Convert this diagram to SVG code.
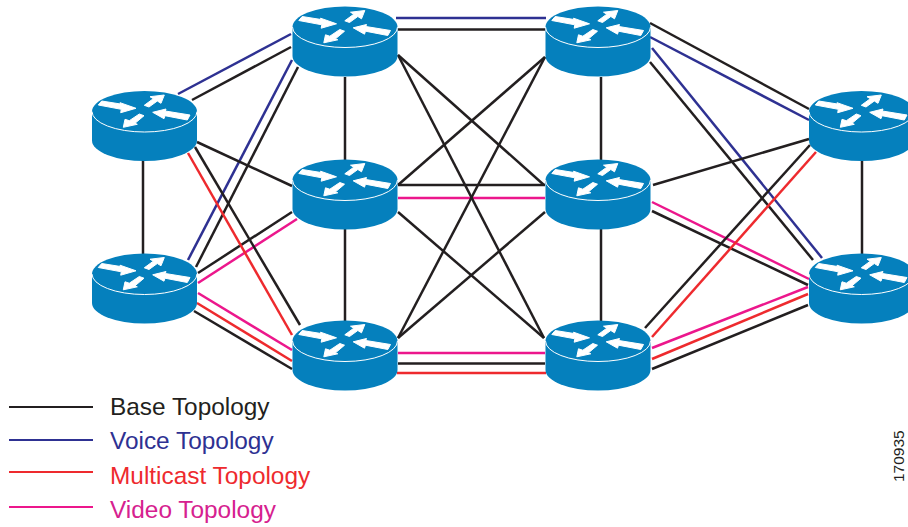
<svg xmlns="http://www.w3.org/2000/svg" width="908" height="527" viewBox="0 0 908 527">
<style>
.k{stroke:#231f20}.b{stroke:#2e3192}.r{stroke:#ee2a2e}.p{stroke:#ec178c}
#connectors line{stroke-width:2.5;fill:none}
#legend line{stroke-width:2;fill:none}
text{font-family:"Liberation Sans",Arial,sans-serif}
.lt{font-size:24.4px}
.a{fill:#fff;stroke:#fff;stroke-width:1;stroke-linejoin:round}
</style>
<defs>
<g id="router">
<path d="M-52.5 0V29A52.5 20.5 0 0 0 52.5 29V0Z" fill="#0580bd"/>
<ellipse cx="0" cy="0" rx="52.5" ry="20.5" fill="#0580bd"/>
<path d="M-52.5 0A52.5 20.5 0 0 0 52.5 0" fill="none" stroke="#fff" stroke-width="1"/>
<path class="a" d="M-42.8-10.5L-24-7.5L-24.5-8.8L-8.5-3.2L-23.8 1.2L-23.2-2.2L-46.2-6.5Z"/>
<path class="a" d="M19.8-16.5L16.5-8.2L12.8-10.5L4.5-4.5L-.2-6.2L8.8-12.8L5.5-14.8Z"/>
<path class="a" d="M8.2.8L21.5-2.5L20.8-.5L45.5 3.5L42.8 8.5L20.5 4.2L19.5 7.2Z"/>
<path class="a" d="M-21.2 15.8L-19.5 7.8L-15.2 9.2L-5.2 2.5L-.5 4.2L-9.5 11.8L-7.2 12.8Z"/>
</g>
</defs>
<rect width="908" height="527" fill="#fff"/>
<g id="connectors">
<line class="k" x1="143" y1="150" x2="143" y2="255"/>
<line class="b" x1="178" y1="94" x2="291" y2="34"/>
<line class="k" x1="192" y1="100" x2="291" y2="47"/>
<line class="b" x1="188" y1="260" x2="292" y2="60"/>
<line class="k" x1="196" y1="267" x2="298" y2="67"/>
<line class="k" x1="198" y1="273" x2="292" y2="212"/>
<line class="p" x1="198" y1="283" x2="297" y2="219"/>
<line class="p" x1="198" y1="293" x2="292" y2="350"/>
<line class="r" x1="197" y1="303" x2="292" y2="361"/>
<line class="k" x1="194" y1="311" x2="292" y2="369"/>
<line class="r" x1="188" y1="153" x2="292" y2="335"/>
<line class="k" x1="195" y1="147" x2="300" y2="325"/>
<line class="k" x1="197" y1="142" x2="292" y2="186"/>
<line class="k" x1="345" y1="77" x2="345" y2="160"/>
<line class="k" x1="345" y1="228" x2="345" y2="322"/>
<line class="b" x1="396" y1="18" x2="546" y2="18"/>
<line class="k" x1="398" y1="29.500" x2="545" y2="29.500"/>
<line class="k" x1="398" y1="185" x2="545" y2="185"/>
<line class="p" x1="398" y1="198" x2="545" y2="198"/>
<line class="p" x1="398" y1="353" x2="545" y2="353"/>
<line class="k" x1="398" y1="363.500" x2="545" y2="363.500"/>
<line class="r" x1="397" y1="373" x2="546" y2="373"/>
<line class="k" x1="398" y1="55" x2="544" y2="185"/>
<line class="k" x1="398" y1="55" x2="544" y2="338"/>
<line class="k" x1="545" y1="57" x2="398" y2="185"/>
<line class="k" x1="545" y1="57" x2="398" y2="338"/>
<line class="k" x1="398" y1="212" x2="544" y2="338"/>
<line class="k" x1="545" y1="212" x2="398" y2="338"/>
<line class="k" x1="601" y1="77" x2="601" y2="160"/>
<line class="k" x1="601" y1="228" x2="601" y2="322"/>
<line class="k" x1="650" y1="23" x2="809" y2="109"/>
<line class="b" x1="650" y1="37" x2="809" y2="120"/>
<line class="b" x1="652" y1="48" x2="822" y2="258"/>
<line class="k" x1="650" y1="62" x2="813" y2="260"/>
<line class="k" x1="653" y1="185" x2="809" y2="139"/>
<line class="p" x1="652" y1="202" x2="809" y2="279"/>
<line class="k" x1="652" y1="211" x2="808" y2="285"/>
<line class="k" x1="645" y1="328" x2="810" y2="145"/>
<line class="r" x1="652" y1="337" x2="816" y2="152"/>
<line class="p" x1="652" y1="348" x2="808" y2="287"/>
<line class="r" x1="652" y1="359" x2="808" y2="294"/>
<line class="k" x1="652" y1="369" x2="808" y2="305"/>
<line class="k" x1="862" y1="150" x2="862" y2="255"/>
</g>
<g id="router-l1"><use href="#router" x="144.5" y="111.5"/></g>
<g id="router-l2"><use href="#router" x="144.5" y="274"/></g>
<g id="router-t1"><use href="#router" x="345" y="27"/></g>
<g id="router-m1"><use href="#router" x="345" y="180"/></g>
<g id="router-b1"><use href="#router" x="345" y="341"/></g>
<g id="router-t2"><use href="#router" x="598" y="27"/></g>
<g id="router-m2"><use href="#router" x="598" y="180"/></g>
<g id="router-b2"><use href="#router" x="598" y="341"/></g>
<g id="router-r1"><use href="#router" x="861.5" y="111.5"/></g>
<g id="router-r2"><use href="#router" x="861.5" y="274"/></g>
<g id="legend">
<line class="k" x1="9" y1="407" x2="93" y2="407"/>
<line class="b" x1="9" y1="440" x2="93" y2="440"/>
<line class="r" x1="9" y1="472" x2="93" y2="472"/>
<line class="p" x1="9" y1="507" x2="93" y2="507"/>
<text class="lt" x="110" y="415" fill="#231f20">Base Topology</text>
<text class="lt" x="110" y="449" fill="#2e3192">Voice Topology</text>
<text class="lt" x="110" y="484" fill="#ee2a2e">Multicast Topology</text>
<text class="lt" x="110" y="518" fill="#d6218f">Video Topology</text>
</g>
<text x="904" y="482" font-size="15.500" fill="#231f20" transform="rotate(-90 904 482)">170935</text>
</svg>
